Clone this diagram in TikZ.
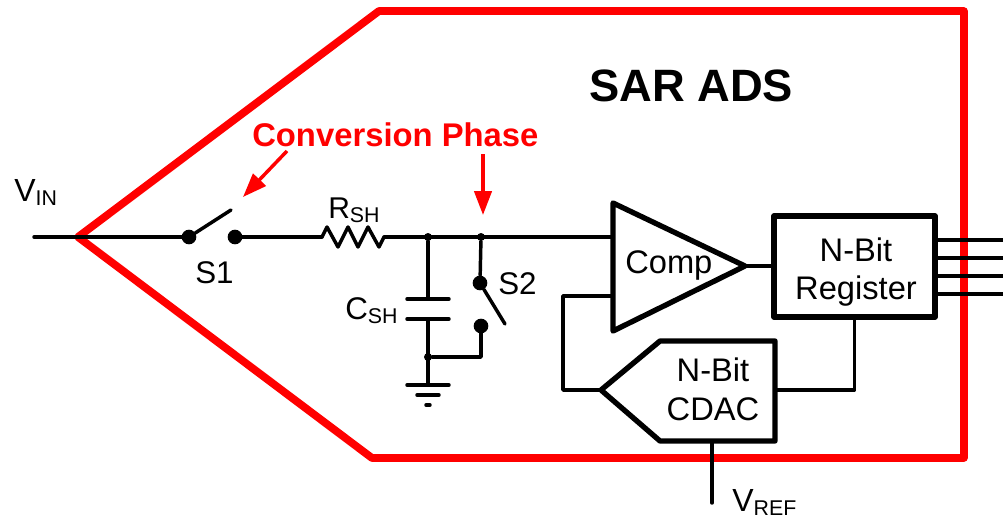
\documentclass[tikz,border=0pt]{standalone}
\usepackage{fontspec}
\setmainfont{Liberation Sans}
\usetikzlibrary{arrows.meta,calc}
\newcommand{\fsize}[1]{\fontsize{#1}{#1}\selectfont}
\newcommand{\subbed}[2]{#1\raisebox{-3pt}{\fsize{16pt}#2}}
\tikzset{
  wire/.style={line width=2.6pt,line cap=round,line join=round},
  blockline/.style={draw,line width=4pt,line join=round},
  redline/.style={draw=red,line width=5.8pt,line join=round},
  redarrow/.style={draw=red,line width=2.6pt,-{Triangle[length=18pt,width=13pt,fill=red]}},
  bigdot/.style={circle,fill=black,inner sep=0pt,minimum size=11pt},
  smalldot/.style={circle,fill=black,inner sep=0pt,minimum size=6pt},
  lab/.style={inner sep=0pt,anchor=base west,font=\fsize{23.5pt}},
  ctr/.style={inner sep=0pt,anchor=base,font=\fsize{24.5pt}}
}
\begin{document}
\begin{tikzpicture}[x=0.75pt,y=-0.75pt]
\useasboundingbox (0,0) rectangle (1003,518);
% red outline
\coordinate (r1) at (78,237);
\coordinate (r2) at (379,11);
\coordinate (r3) at (964,11);
\coordinate (r4) at (964,458);
\coordinate (r5) at (372,458);
\draw[redline] (r1) -- (r2) -- (r3) -- (r4) -- (r5) -- cycle;
% circuit points
\coordinate (vin) at (34,237);
\node[bigdot] (s1a) at (189,237) {};
\node[bigdot] (s1b) at (235,237) {};
\coordinate (s1tip) at (231,210);
\coordinate (ra) at (322,237);
\coordinate (rb) at (384,237);
\node[smalldot] (j1) at (428,237) {};
\node[smalldot] (j2) at (481,237) {};
\node[bigdot] (s2a) at (480,283) {};
\node[bigdot] (s2b) at (481,326) {};
\coordinate (s2tip) at (505,324);
\coordinate (c1) at (428,299);
\coordinate (c2) at (428,319);
\node[smalldot] (j3) at (428,357) {};
\coordinate (g1) at (428,385);
% blocks
\draw[blockline] (613,203) coordinate (ca) -- (745,266) coordinate (cout) -- (613,331) coordinate (cb) -- cycle;
\coordinate (cin1) at (613,237);
\coordinate (cin2) at (613,296);
\node[blockline,minimum width=120.75pt,minimum height=75.75pt,inner sep=0pt,outer sep=0pt,anchor=north west] (reg) at (774,216) {};
\draw[blockline] (601,390) coordinate (dacout) -- (660,341) -- (775,341) coordinate (dtr) -- (775,441) coordinate (dbr) -- (660,441) -- cycle;
\coordinate (dacin) at (775,390);
\coordinate (dacref) at (712,441);
\coordinate (vref) at (712,503);
% wires
\draw[wire] (vin) -- (s1a);
\draw[wire] (s1a) -- (s1tip);
\draw[wire] (s1b) -- (ra);
\draw[wire,line cap=butt] (ra) -- (327,227) -- (338,247) -- (348,227) -- (358,247) -- (368,227) -- (379,247) -- (rb);
\draw[wire] (rb) -- (cin1);
\draw[wire] (j1) -- (c1);
\draw[wire] (c2) -- (g1);
\draw[wire] (407,299) -- (449,299);
\draw[wire] (407,319) -- (449,319);
\draw[wire] (407,385) -- (449,385);
\draw[wire] (417,395) -- (439,395);
\draw[wire] (426,405) -- (430,405);
\draw[wire] (j2) -- (s2a);
\draw[wire] (s2a) -- (s2tip);
\draw[wire] (s2b) |- (j3);
\draw[wire] (cout) -- (reg.west |- cout);
\draw[wire] (cin2) -| (563,390) -- (dacout);
\draw[wire] (reg.south) |- (dacin);
\draw[wire] (dacref) -- (vref);
\foreach \y in {240,258,276,294}{
  \draw[wire,line cap=butt] (935,\y) -- (1003,\y);
}
% labels
\node[lab,font=\fsize{24pt}] (tvin) at (14,201) {\subbed{V}{IN}};
\node[lab,font=\fsize{22.5pt}] (trsh) at (328,218) {\subbed{R}{SH}};
\node[lab] (ts1) at (195,283) {S1};
\node[lab] (tcsh) at (345,319) {\subbed{C}{SH}};
\node[lab] (ts2) at (498,294) {S2};
\node[lab,font=\fsize{24.5pt}] (tcomp) at (625,273) {Comp};
\node[ctr] (tr1) at (856,261) {N-Bit};
\node[ctr] (tr2) at (856,299) {Register};
\node[ctr] (td1) at (713,381) {N-Bit};
\node[ctr] (td2) at (713,420) {CDAC};
\node[lab,font=\fsize{24pt}] (tvref) at (732,511) {\subbed{V}{REF}};
\node[lab,font=\fsize{34pt}\bfseries] (tsar) at (589,101) {SAR ADS};
\node[lab,font=\fsize{24.6pt}\bfseries,text=red] (tconv) at (252,146) {Conversion Phase};
% red arrows
\coordinate (a1) at (287,151);
\coordinate (a1t) at (243,197);
\coordinate (a2) at (483,154);
\coordinate (a2t) at (483,215);
\draw[redarrow] (a1) -- (a1t);
\draw[redarrow] (a2) -- (a2t);
\end{tikzpicture}
\end{document}
